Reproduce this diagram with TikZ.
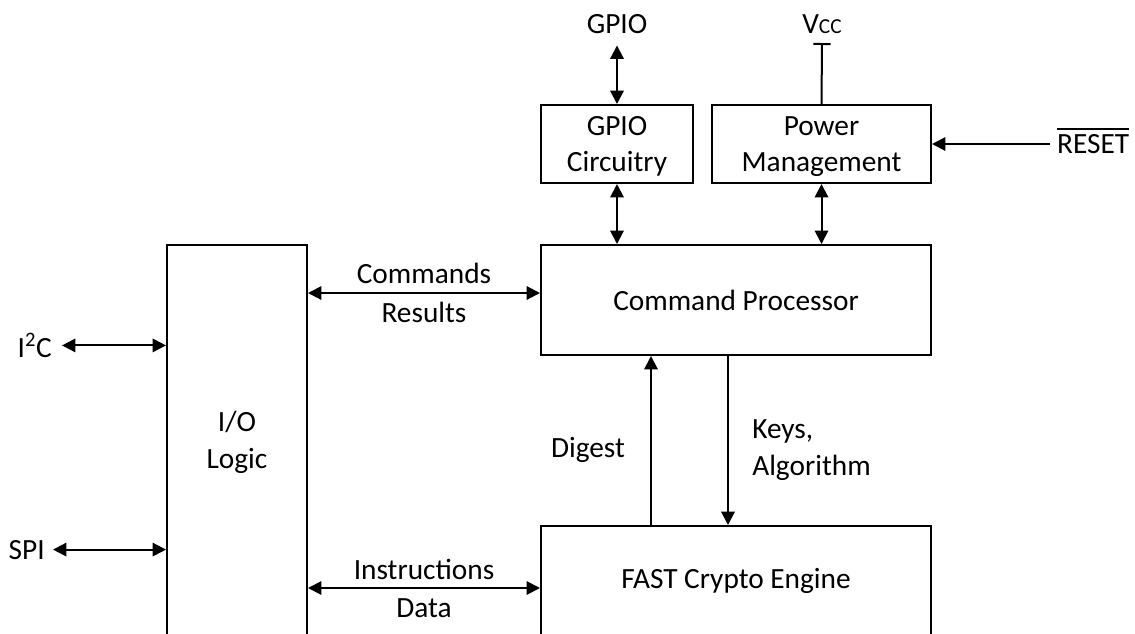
\documentclass[tikz,border=0pt]{standalone}
\usepackage{fontspec}
\setmainfont{Carlito}
\usetikzlibrary{arrows.meta}
\newcommand\myover[1]{\setbox0=\hbox{#1}\rlap{\rule[17.6pt]{\wd0}{1.1pt}}\box0}
\begin{document}
\begin{tikzpicture}[x=0.75pt,y=-0.75pt,
  every node/.style={font=\fontsize{22}{27.5}\selectfont},
  box/.style={draw, line width=1.5pt, inner sep=0pt, align=center},
  twoline/.style={text depth=0pt},
  lbl/.style={inner sep=0pt, align=center},
  conn/.style={line width=1.5pt},
  dbl/.style={conn, {Triangle[length=10pt,width=10pt]}-{Triangle[length=10pt,width=10pt]}},
  one/.style={conn, -{Triangle[length=10pt,width=10pt]}}]
\useasboundingbox (0,0) rectangle (1135,633);
\clip (0,0) rectangle (1135,633);

% boxes
\node[box, twoline, minimum width=114pt, minimum height=58.5pt] (gc) at (617,144) {GPIO\\Circuitry};
\node[box, twoline, minimum width=164.25pt, minimum height=58.5pt] (pm) at (821.5,144) {Power\\Management};
\node[box, minimum width=292.5pt, minimum height=82.5pt] (cp) at (736,300) {Command Processor};
\node[box, twoline, minimum width=105pt, minimum height=292.5pt] (io) at (237,440) {I/O\\Logic};
\node[box, minimum width=292.5pt, minimum height=82.5pt] (ce) at (736,581) {FAST Crypto Engine};

% outside labels
\node[lbl, inner ysep=9pt, anchor=base] (gpio) at (617,33) {GPIO};
\node[lbl, anchor=base] (vcc) at (822,33) {V{\fontsize{16}{16}\selectfont CC}};
\coordinate (vcctee) at (822,43);
\node[lbl, inner xsep=5.5pt, anchor=base west] (reset) at (1049.5,153) {\myover{RESET}};
\node[lbl, inner xsep=7.5pt, anchor=base east] (i2c) at (62,357) {I\textsuperscript{2}C};
\node[lbl, inner xsep=6pt, anchor=base east] (spi) at (53,559) {SPI};

% inner labels
\node[lbl, anchor=base] (cmd) at (424,283) {Commands};
\node[lbl, anchor=base] (res) at (424,322) {Results};
\node[lbl, anchor=base] (ins) at (424,579) {Instructions};
\node[lbl, anchor=base] (dat) at (424,617) {Data};
\node[lbl, anchor=base] (digest) at (588,457) {Digest};
\node[lbl, anchor=base west] (keys) at (752,438) {Keys,};
\node[lbl, anchor=base west] (algo) at (752,475) {Algorithm};

\coordinate (cmdy) at (424,293);
\coordinate (insy) at (424,588);
\coordinate (dg) at (651,0);
\coordinate (ky) at (728,0);

% connectors
\draw[dbl] (gpio.south) -- (gc.north);
\draw[conn, -{Bar[width=13pt]}] (pm.north) -- (vcctee);
\draw[one] (reset.west |- pm.east) -- (pm.east);
\draw[dbl] (gc.south) -- (gc.south |- cp.north);
\draw[dbl] (pm.south) -- (pm.south |- cp.north);
\draw[dbl] (io.east |- cmdy) -- (cp.west |- cmdy);
\draw[dbl] (io.east |- insy) -- (ce.west |- insy);
\draw[dbl] (i2c.east) -- (i2c.east -| io.west);
\draw[dbl] (spi.east) -- (spi.east -| io.west);
\draw[one] (ce.north -| dg) -- (cp.south -| dg);
\draw[one] (cp.south -| ky) -- (ce.north -| ky);
\end{tikzpicture}
\end{document}
